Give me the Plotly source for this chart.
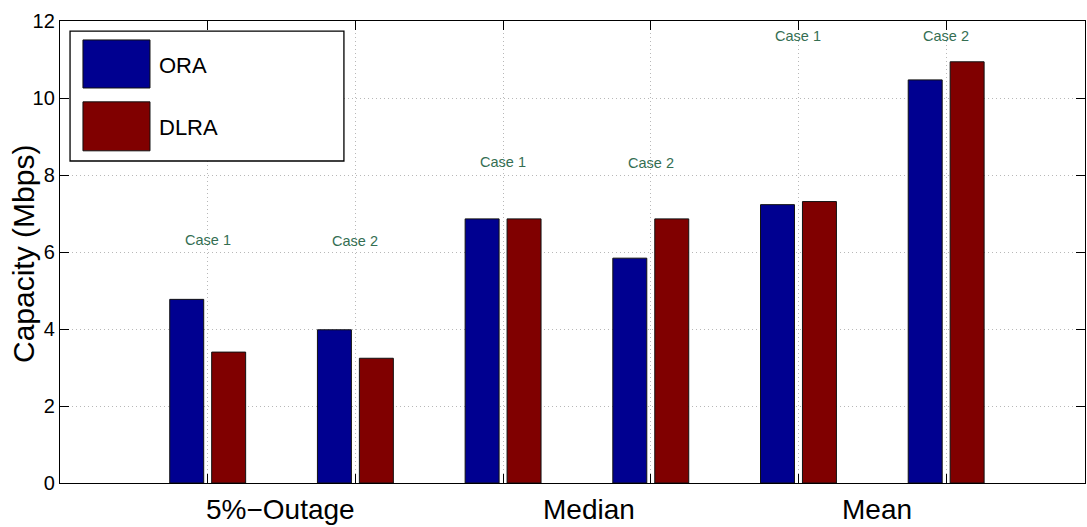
import plotly.graph_objects as go

# Capacity statistics (Mbps) per scenario
metrics = ["5%\u2212Outage", "Median", "Mean"]
cases = ["Case 1", "Case 2"]
ora_capacity = [4.77, 3.98, 6.86, 5.84, 7.23, 10.47]
dlra_capacity = [3.40, 3.24, 6.86, 6.86, 7.31, 10.94]
series_names = ["ORA", "DLRA"]
y_ticks = [0, 2, 4, 6, 8, 10, 12]

# Layout constants
FONT = "Liberation Sans, Arial, Helvetica, sans-serif"
COLORS = {"ORA": "#000090", "DLRA": "#800000"}
CASE_COLOR = "rgb(52,110,82)"
BAR_W = 0.23
case_label_y = [6.3, 6.28, 8.35, 8.3, 11.6, 11.62]
metric_label_x = [1.49, 3.58, 5.53]

group_x = list(range(1, len(ora_capacity) + 1))

fig = go.Figure()
for name, vals, off in [("ORA", ora_capacity, -0.257), ("DLRA", dlra_capacity, 0.027)]:
    fig.add_trace(go.Bar(
        x=group_x, y=vals, name=name,
        width=BAR_W, offset=off,
        marker=dict(color=COLORS[name], line=dict(color="#111111", width=1)),
        showlegend=False,
    ))

# "Case n" tags above each pair of bars
for i, gx in enumerate(group_x):
    fig.add_annotation(
        x=gx, y=case_label_y[i], xref="x", yref="y",
        text=cases[i % len(cases)], showarrow=False,
        font=dict(family=FONT, size=14.5, color=CASE_COLOR),
    )

# Metric names under the axis
for lbl, mx in zip(metrics, metric_label_x):
    fig.add_annotation(
        x=mx, y=0, xref="x", yref="paper", yanchor="top", yshift=-9,
        text=lbl, showarrow=False,
        font=dict(family=FONT, size=28, color="black"),
    )

# Y-axis title, set close to the tick labels
fig.add_annotation(
    x=-0.0351, y=0.4957, xref="paper", yref="paper",
    xanchor="center", yanchor="middle", textangle=-90,
    text="Capacity (Mbps)", showarrow=False,
    font=dict(family=FONT, size=30, color="black"),
)

# Boxed legend with large swatches
fig.add_shape(type="rect", xref="paper", yref="paper",
              x0=0.0098, x1=0.277, y0=0.697, y1=0.978,
              line=dict(color="black", width=1.3), fillcolor="white", layer="above")
swatch_rows = [(0.855, 0.959, 0.903), (0.719, 0.825, 0.770)]
for name, (sy0, sy1, ty) in zip(series_names, swatch_rows):
    fig.add_shape(type="rect", xref="paper", yref="paper",
                  x0=0.0224, x1=0.0878, y0=sy0, y1=sy1,
                  line=dict(color="#111111", width=1), fillcolor=COLORS[name], layer="above")
    fig.add_annotation(x=0.0946, y=ty, xref="paper", yref="paper",
                       xanchor="left", yanchor="middle", text=name, showarrow=False,
                       font=dict(family=FONT, size=22, color="black"))

axis_common = dict(
    showline=True, linecolor="black", linewidth=1.3, mirror="allticks",
    ticks="inside", ticklen=9, tickcolor="black", tickwidth=1,
    showgrid=True, gridcolor="#b8b8b8", griddash="1px,3px", gridwidth=1,
    zeroline=False,
)

fig.update_xaxes(
    range=[0, 6.94], tickvals=group_x, ticktext=[""] * len(group_x),
    **axis_common,
)
fig.update_yaxes(
    range=[0, 12], tickvals=y_ticks,
    tickfont=dict(family=FONT, size=20, color="black"),
    **axis_common,
)

fig.update_layout(
    width=1087, height=527,
    margin=dict(l=60, r=2, t=21, b=44),
    paper_bgcolor="white", plot_bgcolor="white",
    barmode="overlay",
    font=dict(family=FONT, color="black"),
)

fig.write_html("out.html")
